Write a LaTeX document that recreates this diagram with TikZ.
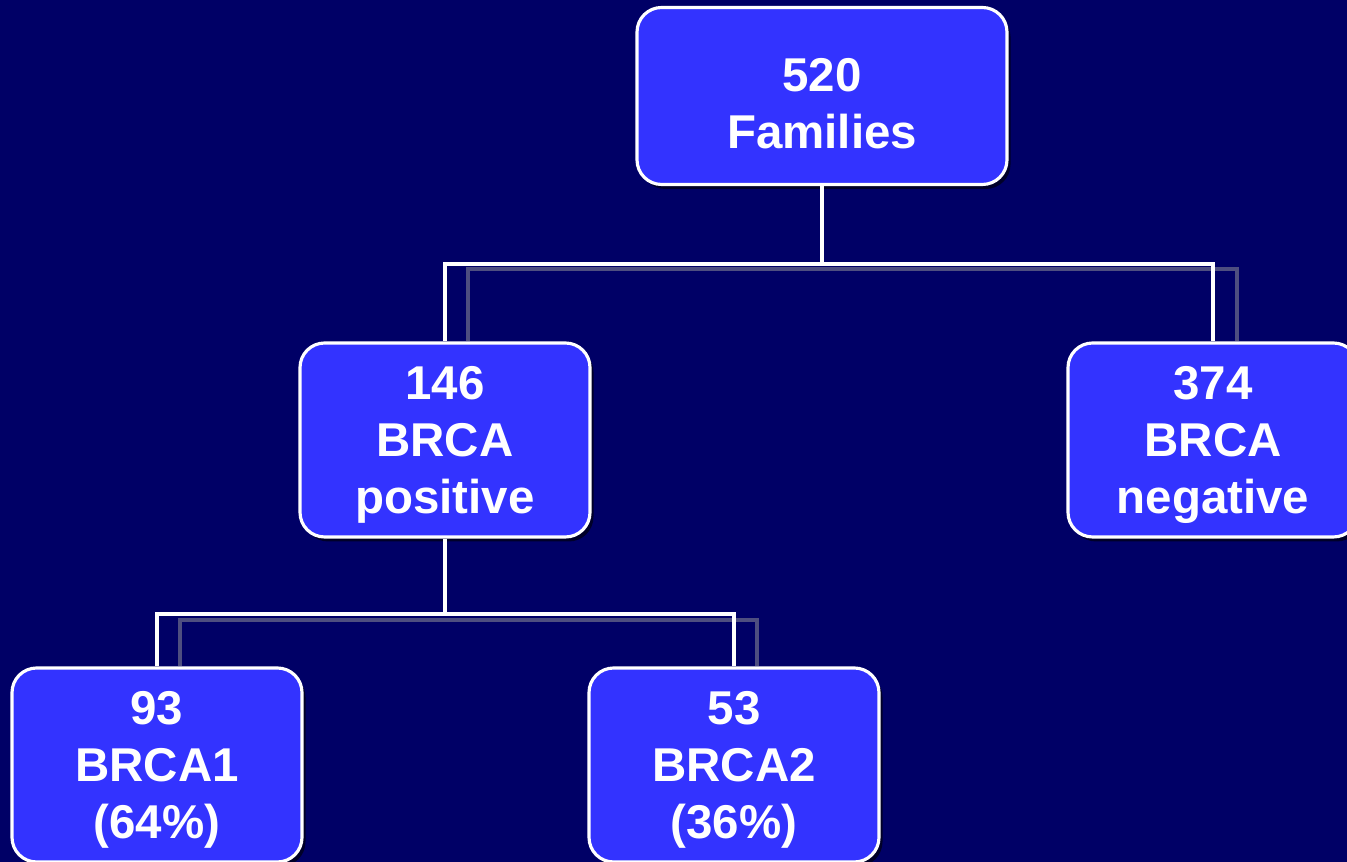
\documentclass[tikz,border=0pt]{standalone}
\usepackage{fontspec}
\setmainfont{Liberation Sans}
\usetikzlibrary{positioning, calc, shadows}
\definecolor{NightBlue}{RGB}{0, 0, 102}
\definecolor{BoxBlue}{RGB}{51, 51, 255}
\definecolor{ShadowGrey}{RGB}{78, 78, 128}

\begin{document}
\begin{tikzpicture}[
    box/.style={draw=white, fill=BoxBlue, line width=1.8pt, rounded corners=14pt,
      minimum width=5.8cm, minimum height=3.88cm, align=center, text=white,
      text depth=-4pt, font=\fontsize{27}{32.5}\selectfont\bfseries,
      drop shadow={shadow xshift=0.07cm, shadow yshift=-0.09cm, fill=black, opacity=0.6}},
    link/.style={draw=white, line width=1.8pt},
    ghost/.style={draw=ShadowGrey, line width=1.8pt}]
      % Background
      \fill[NightBlue] (0, 0) rectangle (26.94, 17.24);
      \useasboundingbox (0, 0) rectangle (26.94, 17.24);

      % Boxes
      \node[box, minimum width=7.4cm, minimum height=3.54cm, text height=60pt, text depth=0pt] (families) at (16.44, 15.32) {520\\Families};
      \node[box] (pos) at (8.9, 8.44) {146\\BRCA\\positive};
      \node[box] (neg) at (24.26, 8.44) {374\\BRCA\\negative};
      \node[box] (brcaone) at (3.14, 1.94) {93\\BRCA1\\(64\%)};
      \node[box] (brcatwo) at (14.68, 1.94) {53\\BRCA2\\(36\%)};

      % Split points
      \coordinate (split1) at (16.44, 11.96);
      \coordinate (split2) at (8.9, 4.96);

      % Grey shadow lines
      \draw[ghost] ([xshift=0.46cm]pos.north) |- ([yshift=-0.1cm]split1) -| ([xshift=0.48cm]neg.north);
      \draw[ghost] ([xshift=0.46cm]brcaone.north) |- ([yshift=-0.12cm]split2) -| ([xshift=0.46cm]brcatwo.north);

      % Connectors
      \draw[link] (families) -- (split1);
      \draw[link] (split1) -| (pos);
      \draw[link] (split1) -| (neg);
      \draw[link] (pos) -- (split2);
      \draw[link] (split2) -| (brcaone);
      \draw[link] (split2) -| (brcatwo);
\end{tikzpicture}
\end{document}
